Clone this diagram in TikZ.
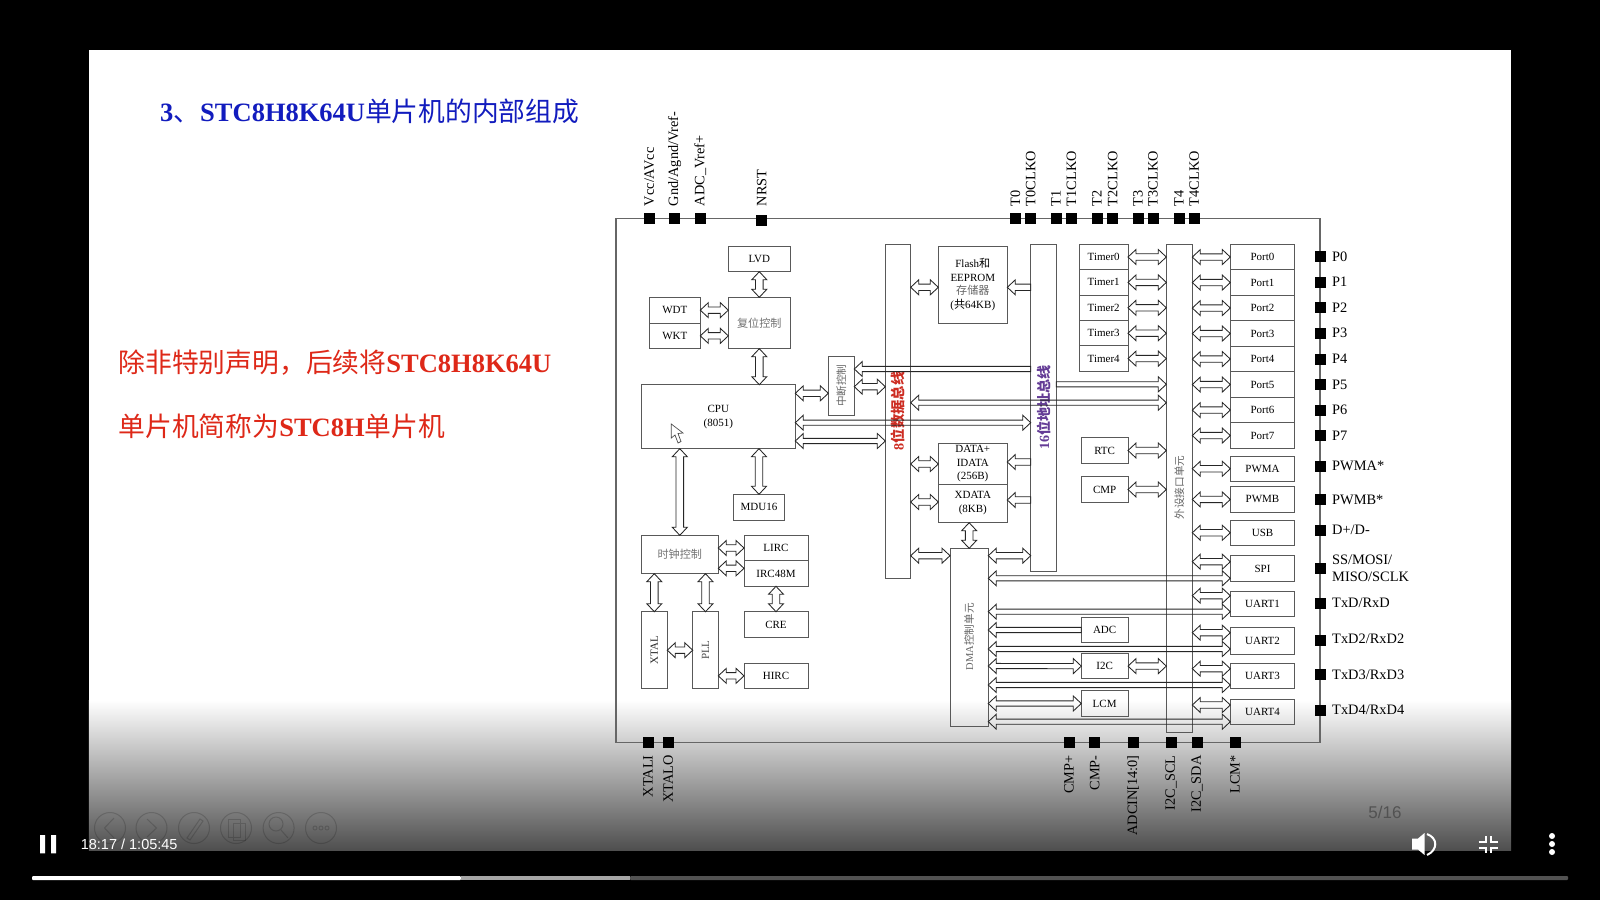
\documentclass[tikz,border=0pt]{standalone}
\usepackage{fontspec}
\setmainfont{Liberation Serif}
\setsansfont{Liberation Sans}
\newfontfamily\cjk[Scale=1.01]{Noto Sans CJK SC}
\newcommand{\cn}[1]{{\cjk #1}}
\usetikzlibrary{positioning,calc}

\begin{document}
\begin{tikzpicture}[x=1pt, y=-1pt,
box/.style={rectangle, draw=black!65, line width=0.9pt, inner sep=0pt, outer sep=0pt, anchor=north west, align=center, font=\fontsize{11}{13.7}\selectfont},
timerbox/.style={box, minimum width=48.7pt, minimum height=25.4pt},
portbox/.style={box, minimum width=64.4pt, minimum height=25.5pt},
sidebox/.style={box, minimum width=46.7pt, minimum height=25.6pt},
graybox/.style={box, text=black!55},
vtext/.style={rotate=90, inner sep=0pt, text=black!60, font=\fontsize{10.5}{12}\selectfont},
pinbox/.style={rectangle, fill=black, minimum size=11pt, inner sep=0pt, outer sep=0pt},
pinup/.style={rotate=90, inner sep=0pt, font=\fontsize{14.3}{16}\selectfont},
pinright/.style={inner sep=0pt, align=left, font=\fontsize{14.4}{17}\selectfont},
biarrow/.style={draw=black!85, line width=0.85pt, to path={
  -- ($(\tikztostart)!8pt!(\tikztotarget)!7.5pt!90:(\tikztotarget)$)
  -- ($(\tikztostart)!8pt!(\tikztotarget)!#1pt!90:(\tikztotarget)$)
  -- ($(\tikztotarget)!8pt!(\tikztostart)!#1pt!-90:(\tikztostart)$)
  -- ($(\tikztotarget)!8pt!(\tikztostart)!7.5pt!-90:(\tikztostart)$)
  -- (\tikztotarget)
  -- ($(\tikztotarget)!8pt!(\tikztostart)!7.5pt!90:(\tikztostart)$)
  -- ($(\tikztotarget)!8pt!(\tikztostart)!#1pt!90:(\tikztostart)$)
  -- ($(\tikztostart)!8pt!(\tikztotarget)!#1pt!-90:(\tikztotarget)$)
  -- ($(\tikztostart)!8pt!(\tikztotarget)!7.5pt!-90:(\tikztotarget)$)
  -- cycle}},
biarrow/.default=3.2,
onearrow/.style={draw=black!85, line width=0.85pt, to path={
  -- ($(\tikztostart)!#1pt!90:(\tikztotarget)$)
  -- ($(\tikztotarget)!8pt!(\tikztostart)!#1pt!-90:(\tikztostart)$)
  -- ($(\tikztotarget)!8pt!(\tikztostart)!7.5pt!-90:(\tikztostart)$)
  -- (\tikztotarget)
  -- ($(\tikztotarget)!8pt!(\tikztostart)!7.5pt!90:(\tikztostart)$)
  -- ($(\tikztotarget)!8pt!(\tikztostart)!#1pt!90:(\tikztostart)$)
  -- ($(\tikztostart)!#1pt!-90:(\tikztotarget)$)
  -- cycle}},
onearrow/.default=3.2,
ctrlring/.style={draw=black, opacity=0.16, line width=1pt},
]
\useasboundingbox (0,0) rectangle (1600,900);

%Slide
\fill[black] (0,0) rectangle (1600,900);
\fill[white] (88.8,50) rectangle (1511,850);
\shade[top color=white, bottom color=black!69] (88.8,700) rectangle (1511,850);
\draw[black!60, line width=1.2pt] (616,218.7) rectangle (1320,742.7);

%Text
\node[anchor=west, inner sep=0pt, text={rgb,255:red,18;green,28;blue,190}, font=\fontsize{26.5}{30}\selectfont] (title) at (160,111.7) {\textbf{3}\cn{、}\textbf{STC8H8K64U}\cn{单片机的内部组成}};
\node[anchor=west, inner sep=0pt, text={rgb,255:red,222;green,40;blue,24}, font=\fontsize{26.5}{30}\selectfont] (noteone) at (118.5,362.7) {\cn{除非特别声明，后续将}\textbf{STC8H8K64U}};
\node[anchor=west, inner sep=0pt, text={rgb,255:red,222;green,40;blue,24}, font=\fontsize{26.5}{30}\selectfont] (notetwo) at (118.5,426) {\cn{单片机简称为}\textbf{STC8H}\cn{单片机}};
\node[font=\sffamily\fontsize{17}{20}\selectfont, text=black!68, inner sep=0pt] (pageno) at (1385,812.7) {5/16};

%Nodes
\node[box, minimum width=62pt, minimum height=25.4pt] (LVD) at (728.3,246.3) {LVD};
\node[graybox, minimum width=62pt, minimum height=51.4pt] (Reset) at (728.3,297.3) {\cn{复位控制}};
\node[box, minimum width=51pt, minimum height=25.7pt] (WDT) at (649.3,297.3) {WDT};
\node[box, minimum width=51pt, minimum height=25.7pt] (WKT) [below=0pt of WDT] {WKT};
\node[box, minimum width=154pt, minimum height=64pt] (CPU) at (641.3,384.7) {CPU\\(8051)};
\node[box, minimum width=26pt, minimum height=58.7pt] (Int) at (828.3,356.3) {};
\node[vtext] (Inttext) at (Int.center) {\cn{中断控制}};
\node[box, minimum width=25.4pt, minimum height=334pt] (BusEight) at (885.3,244.3) {};
\node[vtext, text={rgb,255:red,205;green,45;blue,35}, font=\fontsize{14.2}{16}\selectfont\bfseries] (BusEighttext) at (BusEight.center |- 0,411) {8\cn{位数据总线}};
\node[box, minimum width=69pt, minimum height=76.7pt] (Flash) at (938.3,246.3) {Flash\cn{和}\\EEPROM\\\textcolor{black!60}{\cn{存储器}}\\(\cn{共}64KB)};
\node[box, minimum width=69pt, minimum height=40.7pt] (Data) at (938.3,443.3) {DATA+\\IDATA\\(256B)};
\node[box, minimum width=69pt, minimum height=38.7pt] (Xdata) [below=0pt of Data] {XDATA\\(8KB)};
\node[box, minimum width=25.6pt, minimum height=326.7pt] (BusSixteen) at (1030.7,244.3) {};
\node[vtext, text={rgb,255:red,100;green,60;blue,150}, font=\fontsize{14}{16}\selectfont\bfseries] (BusSixteentext) at (BusSixteen.center |- 0,407.5) {16\cn{位地址总线}};
\node[timerbox] (Timer0) at (1079.3,244.3) {Timer0};
\node[timerbox] (Timer1) [below=0pt of Timer0] {Timer1};
\node[timerbox] (Timer2) [below=0pt of Timer1] {Timer2};
\node[timerbox] (Timer3) [below=0pt of Timer2] {Timer3};
\node[timerbox] (Timer4) [below=0pt of Timer3] {Timer4};
\node[box, minimum width=26pt, minimum height=488pt] (Periph) at (1166.3,244.3) {};
\node[vtext] (Periphtext) at (Periph.center |- 0,487.5) {\cn{外设接口单元}};
\node[portbox] (Port0) at (1230.3,244.3) {Port0};
\node[portbox] (Port1) [below=0pt of Port0] {Port1};
\node[portbox] (Port2) [below=0pt of Port1] {Port2};
\node[portbox] (Port3) [below=0pt of Port2] {Port3};
\node[portbox] (Port4) [below=0pt of Port3] {Port4};
\node[portbox] (Port5) [below=0pt of Port4] {Port5};
\node[portbox] (Port6) [below=0pt of Port5] {Port6};
\node[portbox] (Port7) [below=0pt of Port6] {Port7};
\node[portbox] (PWMA) at (1230.3,456) {PWMA};
\node[portbox] (PWMB) at (1230.3,486.7) {PWMB};
\node[portbox] (USB) at (1230.3,520) {USB};
\node[portbox] (SPI) at (1230.3,555.7) {SPI};
\node[portbox] (UARTone) at (1230.3,591) {UART1};
\node[portbox, minimum height=27pt] (UARTtwo) at (1230.3,627.7) {UART2};
\node[portbox] (UARTthree) at (1230.3,663.3) {UART3};
\node[portbox] (UARTfour) at (1230.3,699) {UART4};
\node[sidebox] (RTC) at (1081.3,437.7) {RTC};
\node[sidebox] (CMP) at (1081.3,476.7) {CMP};
\node[sidebox] (ADC) at (1081.3,617.3) {ADC};
\node[sidebox] (IIC) at (1081.3,653.3) {I2C};
\node[sidebox] (LCM) at (1081.3,690.7) {LCM};
\node[box, minimum width=51.4pt, minimum height=25.7pt] (MDU) at (733.3,494.3) {MDU16};
\node[graybox, minimum width=77pt, minimum height=38.4pt] (Clock) at (641.3,535.3) {\cn{时钟控制}};
\node[box, minimum width=64pt, minimum height=25.4pt] (LIRC) at (744,535.3) {LIRC};
\node[box, minimum width=64pt, minimum height=25.6pt] (IRC) [below=0pt of LIRC] {IRC48M};
\node[box, minimum width=64pt, minimum height=25.6pt] (CRE) at (744,611.7) {CRE};
\node[box, minimum width=64pt, minimum height=25.7pt] (HIRC) at (744,663) {HIRC};
\node[box, minimum width=26pt, minimum height=77pt] (XTAL) at (641.3,611.7) {};
\node[vtext, text=black!85, font=\fontsize{11}{12}\selectfont] (XTALtext) at (XTAL.center) {XTAL};
\node[box, minimum width=25.6pt, minimum height=77pt] (PLL) at (692.7,611.7) {};
\node[vtext, text=black!70, font=\fontsize{11}{12}\selectfont] (PLLtext) at (PLL.center) {PLL};
\node[box, minimum width=38.3pt, minimum height=178pt] (DMA) at (950,548.3) {};
\node[vtext] (DMAtext) at (DMA.center |- 0,636.7) {DMA\cn{控制单元}};

%Pins
\node[pinbox] (pVcc) at (649.3,218.7) {};
\node[pinbox] (pGnd) at (674.7,218.7) {};
\node[pinbox] (pVref) at (700.3,218.7) {};
\node[pinbox] (pNRST) at (761.7,220) {};
\node[pinbox] (pTzero) at (1015.3,218.7) {};
\node[pinbox] (pTzeroclk) at (1030.7,218.7) {};
\node[pinbox] (pTone) at (1056,218.7) {};
\node[pinbox] (pToneclk) at (1071.5,218.7) {};
\node[pinbox] (pTtwo) at (1097,218.7) {};
\node[pinbox] (pTtwoclk) at (1112.7,218.7) {};
\node[pinbox] (pTthree) at (1138,218.7) {};
\node[pinbox] (pTthreeclk) at (1153,218.7) {};
\node[pinbox] (pTfour) at (1179,218.7) {};
\node[pinbox] (pTfourclk) at (1194.3,218.7) {};
\node[pinbox] (pPzero) at (1320,256.7) {};
\node[pinbox] (pPone) at (1320,282) {};
\node[pinbox] (pPtwo) at (1320,307.7) {};
\node[pinbox] (pPthree) at (1320,333) {};
\node[pinbox] (pPfour) at (1320,359) {};
\node[pinbox] (pPfive) at (1320,384.7) {};
\node[pinbox] (pPsix) at (1320,410) {};
\node[pinbox] (pPseven) at (1320,435.7) {};
\node[pinbox] (pPWMA) at (1320,466) {};
\node[pinbox] (pPWMB) at (1320,499.7) {};
\node[pinbox] (pUSB) at (1320,530) {};
\node[pinbox] (pSPI) at (1320,568) {};
\node[pinbox] (pTxone) at (1320,603) {};
\node[pinbox] (pTxtwo) at (1320,640) {};
\node[pinbox] (pTxthree) at (1320,674.7) {};
\node[pinbox] (pTxfour) at (1320,710) {};
\node[pinbox] (pXTALI) at (648,742.7) {};
\node[pinbox] (pXTALO) at (668.3,742.7) {};
\node[pinbox] (pCMPplus) at (1069,742.7) {};
\node[pinbox] (pCMPminus) at (1094.7,742.7) {};
\node[pinbox] (pADCIN) at (1133,742.7) {};
\node[pinbox] (pSCL) at (1171,742.7) {};
\node[pinbox] (pSDA) at (1197,742.7) {};
\node[pinbox] (pLCM) at (1235,742.7) {};

%Pin labels
\node[pinup, above=7pt of pVcc, anchor=west] (lVcc) {Vcc/AVcc};
\node[pinup, above=7pt of pGnd, anchor=west] (lGnd) {Gnd/Agnd/Vref-};
\node[pinup, above=7pt of pVref, anchor=west] (lVref) {ADC\_Vref+};
\node[pinup, above=8pt of pNRST, anchor=west] (lNRST) {NRST};
\node[pinup, above=7pt of pTzero, anchor=west] (lTzero) {T0};
\node[pinup, above=7pt of pTzeroclk, anchor=west] (lTzeroclk) {T0CLKO};
\node[pinup, above=7pt of pTone, anchor=west] (lTone) {T1};
\node[pinup, above=7pt of pToneclk, anchor=west] (lToneclk) {T1CLKO};
\node[pinup, above=7pt of pTtwo, anchor=west] (lTtwo) {T2};
\node[pinup, above=7pt of pTtwoclk, anchor=west] (lTtwoclk) {T2CLKO};
\node[pinup, above=7pt of pTthree, anchor=west] (lTthree) {T3};
\node[pinup, above=7pt of pTthreeclk, anchor=west] (lTthreeclk) {T3CLKO};
\node[pinup, above=7pt of pTfour, anchor=west] (lTfour) {T4};
\node[pinup, above=7pt of pTfourclk, anchor=west] (lTfourclk) {T4CLKO};
\node[pinright, right=6.5pt of pPzero] (lPzero) {P0};
\node[pinright, right=6.5pt of pPone] (lPone) {P1};
\node[pinright, right=6.5pt of pPtwo] (lPtwo) {P2};
\node[pinright, right=6.5pt of pPthree] (lPthree) {P3};
\node[pinright, right=6.5pt of pPfour] (lPfour) {P4};
\node[pinright, right=6.5pt of pPfive] (lPfive) {P5};
\node[pinright, right=6.5pt of pPsix] (lPsix) {P6};
\node[pinright, right=6.5pt of pPseven] (lPseven) {P7};
\node[pinright, right=6.5pt of pPWMA] (lPWMA) {PWMA*};
\node[pinright, right=6.5pt of pPWMB] (lPWMB) {PWMB*};
\node[pinright, right=6.5pt of pUSB] (lUSB) {D+/D-};
\node[pinright, right=6.5pt of pSPI] (lSPI) {SS/MOSI/\\MISO/SCLK};
\node[pinright, right=6.5pt of pTxone] (lTxone) {TxD/RxD};
\node[pinright, right=6.5pt of pTxtwo, yshift=1pt] (lTxtwo) {TxD2/RxD2};
\node[pinright, right=6.5pt of pTxthree] (lTxthree) {TxD3/RxD3};
\node[pinright, right=6.5pt of pTxfour] (lTxfour) {TxD4/RxD4};
\node[pinup, below=7pt of pXTALI, anchor=east] (lXTALI) {XTALI};
\node[pinup, below=7pt of pXTALO, anchor=east] (lXTALO) {XTALO};
\node[pinup, below=7pt of pCMPplus, anchor=east] (lCMPplus) {CMP+};
\node[pinup, below=7pt of pCMPminus, anchor=east] (lCMPminus) {CMP-};
\node[pinup, below=7pt of pADCIN, anchor=east] (lADCIN) {ADCIN[14:0]};
\node[pinup, below=7pt of pSCL, anchor=east] (lSCL) {I2C\_SCL};
\node[pinup, below=7pt of pSDA, anchor=east] (lSDA) {I2C\_SDA};
\node[pinup, below=7pt of pLCM, anchor=east] (lLCM) {LCM*};

%Arrows
\draw[biarrow=3.8] (LVD.south) to (Reset.north);
\draw[biarrow] (WDT.east) to (WDT.east -| Reset.west);
\draw[biarrow] (WKT.east) to (WKT.east -| Reset.west);
\draw[biarrow=3.8] (Reset.south) to (Reset.south |- CPU.north);
\draw[biarrow] (CPU.east |- 0,393.3) to (Int.west |- 0,393.3);
\draw[biarrow] (Int.east |- 0,386.7) to (BusEight.west |- 0,386.7);
\draw[onearrow=2.6] (BusSixteen.west |- 0,369) to (Int.east |- 0,369);
\draw[biarrow=2.6] (BusEight.east |- 0,402.7) to (Periph.west |- 0,402.7);
\draw[biarrow=2.6] (CPU.east |- 0,422.7) to (BusSixteen.west |- 0,422.7);
\draw[biarrow=2.6] (CPU.east |- 0,441) to (BusEight.west |- 0,441);
\draw[onearrow=2.6] (BusSixteen.east |- 0,384.3) to (Periph.west |- 0,384.3);
\draw[biarrow] (BusEight.east |- 0,287.3) to (Flash.west |- 0,287.3);
\draw[onearrow] (BusSixteen.west |- 0,287.3) to (Flash.east |- 0,287.3);
\draw[biarrow] (BusEight.east |- 0,464) to (Data.west |- 0,464);
\draw[biarrow] (BusEight.east |- 0,502) to (Xdata.west |- 0,502);
\draw[onearrow] (BusSixteen.west |- 0,462) to (Data.east |- 0,462);
\draw[onearrow] (BusSixteen.west |- 0,500) to (Xdata.east |- 0,500);
\draw[biarrow=3.8] (DMA.north |- Xdata.south) to (DMA.north);
\draw[biarrow] (BusEight.east |- 0,555.7) to (DMA.west |- 0,555.7);
\draw[biarrow] (DMA.east |- 0,555.7) to (BusSixteen.west |- 0,555.7);
\draw[biarrow] (Timer0.east) to (Timer0.east -| Periph.west);
\draw[biarrow] (Timer1.east) to (Timer1.east -| Periph.west);
\draw[biarrow] (Timer2.east) to (Timer2.east -| Periph.west);
\draw[biarrow] (Timer3.east) to (Timer3.east -| Periph.west);
\draw[biarrow] (Timer4.east) to (Timer4.east -| Periph.west);
\draw[biarrow] (RTC.east) to (RTC.east -| Periph.west);
\draw[biarrow] (CMP.east) to (CMP.east -| Periph.west);
\draw[biarrow] (IIC.east) to (IIC.east -| Periph.west);
\draw[biarrow] (Port0.west -| Periph.east) to (Port0.west);
\draw[biarrow] (Port1.west -| Periph.east) to (Port1.west);
\draw[biarrow] (Port2.west -| Periph.east) to (Port2.west);
\draw[biarrow] (Port3.west -| Periph.east) to (Port3.west);
\draw[biarrow] (Port4.west -| Periph.east) to (Port4.west);
\draw[biarrow] (Port5.west -| Periph.east) to (Port5.west);
\draw[biarrow] (Port6.west -| Periph.east) to (Port6.west);
\draw[biarrow] (Port7.west -| Periph.east) to (Port7.west);
\draw[biarrow] (PWMA.west -| Periph.east) to (PWMA.west);
\draw[biarrow] (PWMB.west -| Periph.east) to (PWMB.west);
\draw[biarrow] (USB.west -| Periph.east) to (USB.west);
\draw[biarrow] (Periph.east |- 0,561.7) to (SPI.west |- 0,561.7);
\draw[biarrow] (Periph.east |- 0,595.7) to (UARTone.west |- 0,595.7);
\draw[biarrow] (Periph.east |- 0,632.7) to (UARTtwo.west |- 0,632.7);
\draw[biarrow] (Periph.east |- 0,668.7) to (UARTthree.west |- 0,668.7);
\draw[biarrow] (Periph.east |- 0,705) to (UARTfour.west |- 0,705);
\draw[biarrow=2.6] (DMA.east |- 0,578.3) to (SPI.west |- 0,578.3);
\draw[biarrow=2.6] (DMA.east |- 0,611.7) to (UARTone.west |- 0,611.7);
\draw[onearrow=2.6] (ADC.west |- 0,630) to (DMA.east |- 0,630);
\draw[biarrow=2.6] (DMA.east |- 0,649) to (UARTtwo.west |- 0,649);
\draw[biarrow=2.6] (DMA.east |- 0,666) to (IIC.west);
\draw[biarrow=2.6] (DMA.east |- 0,685) to (UARTthree.west |- 0,685);
\draw[biarrow=2.6] (DMA.east |- 0,703.5) to (LCM.west);
\draw[biarrow=2.6] (DMA.east |- 0,721.7) to (UARTfour.west |- 0,721.7);
\draw[biarrow=3.8] (Clock.north |- CPU.south) to (Clock.north);
\draw[biarrow=3.8] (MDU.north |- CPU.south) to (MDU.north);
\draw[biarrow] (LIRC.west -| Clock.east) to (LIRC.west);
\draw[biarrow] (Clock.east |- 0,568.3) to (IRC.west |- 0,568.3);
\draw[biarrow=3.8] (IRC.south) to (CRE.north);
\draw[biarrow=3.8] (XTAL.north |- Clock.south) to (XTAL.north);
\draw[biarrow=3.8] (PLL.north |- Clock.south) to (PLL.north);
\draw[biarrow] (XTAL.east) to (PLL.west);
\draw[biarrow] (HIRC.west -| PLL.east) to (HIRC.west);

%Player controls
\draw[ctrlring] (110,828) circle (15.5);
\draw[ctrlring] (104.5,828) -- (114,818) (104.5,828) -- (114,838);
\draw[ctrlring] (151.5,828) circle (15.5);
\draw[ctrlring] (147,819) -- (156.5,828) -- (147,837);
\draw[ctrlring] (194,828) circle (15.5);
\draw[ctrlring] (187,838) -- (200,819) -- (203,821) -- (190,840) -- cycle;
\draw[ctrlring] (236,828) circle (15.5);
\draw[ctrlring] (228,819) rectangle (240,837) (233,823) rectangle (245,840);
\draw[ctrlring] (278.6,828) circle (15.5);
\draw[ctrlring] (276,824) circle (7) (281,830) -- (288,838);
\draw[ctrlring] (321,828) circle (15.5);
\draw[ctrlring] (315,828) circle (2) (321,828) circle (2) (327,828) circle (2);
\fill[white] (40,835) rectangle (45,853.3) (51,835) rectangle (56,853.3);
\node[anchor=west, inner sep=0pt, text=white, font=\sffamily\fontsize{14.5}{16}\selectfont] (playtime) at (80.6,844) {18:17 / 1:05:45};
\fill[white, rounded corners=1pt] (32,876) rectangle (461,880);
\fill[black!35] (461,876) rectangle (630,880);
\fill[black!68, rounded corners=1pt] (630,876) rectangle (1568,880);
\fill[white] (1412,838.5) -- (1418,838.5) -- (1424.5,833) -- (1424.5,855) -- (1418,849.5) -- (1412,849.5) -- cycle;
\draw[white, line width=2pt] (1427,834) .. controls (1438,838) and (1438,850) .. (1427,855);
\draw[white, line width=2pt] (1478.7,842) -- (1485.5,842) -- (1485.5,835.7);
\draw[white, line width=2pt] (1497.7,842) -- (1490.5,842) -- (1490.5,835.7);
\draw[white, line width=2pt] (1478.7,848) -- (1485.5,848) -- (1485.5,853.3);
\draw[white, line width=2pt] (1497.7,848) -- (1490.5,848) -- (1490.5,853.3);
\fill[white] (1552,836) circle (3) (1552,844) circle (3) (1552,852) circle (3);

%Cursor
\filldraw[fill=white, draw=black!70, line width=0.7pt] (671.3,424) -- (671.3,438) -- (675,435) -- (678,443) -- (681,441.5) -- (678,433.5) -- (683,433) -- cycle;

\end{tikzpicture}
\end{document}
